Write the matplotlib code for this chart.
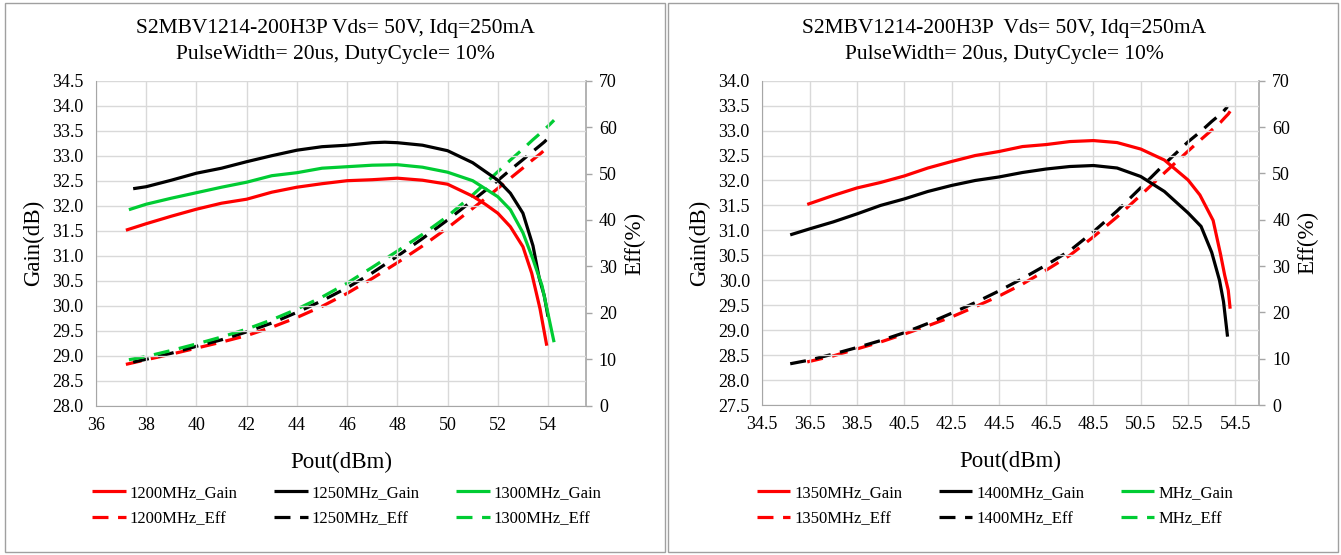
import matplotlib
matplotlib.use("Agg")
import matplotlib.pyplot as plt
from matplotlib.patches import Rectangle

plt.rcParams["font.family"] = ["Liberation Serif", "DejaVu Serif"]

# ---- left chart: 1200 / 1250 / 1300 MHz ----
pout_1200 = [37.19, 38.0, 39.0, 40.0, 41.0, 42.0, 43.0, 44.0, 45.0, 46.0, 47.0, 48.0,
             49.0, 50.0, 51.0, 51.5, 52.0, 52.5, 53.0, 53.35, 53.68, 53.95]
gain_1200 = [31.51, 31.64, 31.79, 31.93, 32.05, 32.13, 32.27, 32.37, 32.44, 32.5, 32.52, 32.55,
             32.51, 32.43, 32.19, 32.03, 31.85, 31.58, 31.18, 30.65, 29.94, 29.2]
eff_1200 = [8.9, 9.9, 11.1, 12.4, 13.7, 15.1, 16.9, 19.0, 21.4, 24.2, 27.4, 30.8,
            34.4, 38.3, 42.5, 44.6, 46.8, 49.0, 51.2, 52.8, 54.2, 55.5]

pout_1250 = [37.48, 38.0, 39.0, 40.0, 41.0, 42.0, 43.0, 44.0, 45.0, 46.0, 47.0, 47.5, 48.0,
             49.0, 50.0, 51.0, 52.0, 52.5, 53.0, 53.4, 53.65, 53.85, 54.0]
gain_1250 = [32.34, 32.38, 32.51, 32.65, 32.75, 32.88, 33.0, 33.11, 33.18, 33.21, 33.26, 33.27, 33.26,
             33.21, 33.1, 32.86, 32.51, 32.25, 31.85, 31.2, 30.55, 30.2, 29.78]
eff_1250 = [9.4, 10.0, 11.3, 12.8, 14.2, 15.9, 17.8, 20.1, 22.6, 25.4, 28.6, 30.4, 32.2,
            36.0, 40.0, 44.2, 48.5, 50.8, 53.0, 54.8, 55.9, 56.8, 57.6]

pout_1300 = [37.31, 38.0, 39.0, 40.0, 41.0, 42.0, 43.0, 44.0, 45.0, 46.0, 47.0, 48.0,
             49.0, 50.0, 51.0, 52.0, 52.5, 53.0, 53.4, 53.76, 54.02, 54.24]
gain_1300 = [31.92, 32.03, 32.15, 32.26, 32.37, 32.47, 32.6, 32.66, 32.75, 32.78, 32.81, 32.82,
             32.77, 32.67, 32.5, 32.18, 31.92, 31.46, 30.93, 30.4, 29.79, 29.27]
eff_1300 = [9.9, 10.6, 11.9, 13.3, 14.8, 16.5, 18.5, 20.8, 23.4, 26.4, 29.8, 33.3,
            36.9, 40.8, 45.4, 50.4, 52.9, 55.3, 57.3, 59.0, 60.3, 61.5]

# ---- right chart: 1350 / 1400 MHz (third series empty) ----
pout_1350 = [36.4, 37.5, 38.5, 39.5, 40.5, 41.5, 42.5, 43.5, 44.5, 45.5, 46.5, 47.5,
             48.5, 49.5, 50.5, 51.5, 52.5, 53.0, 53.56, 53.87, 54.05, 54.2, 54.28]
gain_1350 = [31.52, 31.7, 31.85, 31.96, 32.09, 32.25, 32.38, 32.5, 32.58, 32.68, 32.72, 32.78,
             32.8, 32.76, 32.63, 32.41, 32.01, 31.71, 31.2, 30.53, 30.1, 29.8, 29.43]
eff_1350 = [9.3, 10.6, 12.1, 13.6, 15.3, 17.1, 19.0, 21.2, 23.5, 26.1, 29.1, 32.3,
            36.3, 40.6, 45.3, 50.1, 54.8, 57.1, 59.6, 61.0, 62.0, 62.8, 63.4]

pout_1400 = [35.68, 36.5, 37.5, 38.5, 39.5, 40.5, 41.5, 42.5, 43.5, 44.5, 45.5, 46.5, 47.5,
             48.5, 49.5, 50.5, 51.5, 52.5, 53.05, 53.5, 53.83, 54.0, 54.17]
gain_1400 = [30.91, 31.03, 31.17, 31.33, 31.5, 31.63, 31.78, 31.9, 32.0, 32.07, 32.16, 32.23, 32.28,
             32.3, 32.25, 32.08, 31.78, 31.35, 31.08, 30.56, 30.0, 29.57, 28.87]
eff_1400 = [8.9, 9.7, 11.0, 12.4, 13.9, 15.6, 17.6, 19.8, 22.1, 24.6, 27.3, 30.2, 33.3,
            37.4, 41.9, 46.9, 52.0, 56.8, 59.1, 61.2, 62.6, 63.4, 64.4]

pout_none = []
gain_none = []
eff_none = []

title_left = "S2MBV1214-200H3P Vds= 50V, Idq=250mA\nPulseWidth= 20us, DutyCycle= 10%"
title_right = "S2MBV1214-200H3P  Vds= 50V, Idq=250mA\nPulseWidth= 20us, DutyCycle= 10%"

RED = "#ff0000"
BLACK = "#000000"
GREEN = "#00cc33"
GRID = "#d9d9d9"
SPINE = "#a6a6a6"


def draw_panel(fig, rect, xlim, xticks, ylim, yticks, series, title, title_x, legend_x):
    ax = fig.add_axes(rect)
    ax2 = ax.twinx()
    ax.set_zorder(ax2.get_zorder() + 1)
    ax.patch.set_visible(False)

    handles = []
    for pout, gain, eff, color, name in series:
        g, = ax.plot(pout, gain, color=color, lw=2.3, solid_capstyle="butt", label=name + "_Gain")
        e, = ax2.plot(pout, eff, color=color, lw=2.3, linestyle=(0, (5, 3)),
                      dash_capstyle="butt", label=name + "_Eff")
        handles += [g, e]

    ax.set_xlim(*xlim)
    ax.set_ylim(*ylim)
    ax2.set_ylim(0, 70)
    ax.set_xticks(xticks)
    ax.set_xticklabels([f"{t:g}" if xlim[0] == 36 else f"{t:.1f}" for t in xticks])
    ax.set_yticks(yticks)
    ax.set_yticklabels([f"{t:.1f}" for t in yticks])
    ax2.set_yticks(range(0, 71, 10))

    ax.grid(True, color=GRID, lw=1.0)
    ax.set_axisbelow(True)

    for a in (ax, ax2):
        for s in a.spines.values():
            s.set_visible(False)
    ax.spines["bottom"].set_visible(True)
    ax.spines["bottom"].set_color(SPINE)
    ax.spines["left"].set_visible(True)
    ax.spines["left"].set_color(SPINE)
    ax2.spines["right"].set_visible(True)
    ax2.spines["right"].set_color(SPINE)
    ax2.spines["right"].set_linewidth(1.2)

    ax.tick_params(axis="x", length=0, pad=8, labelsize=13)
    ax.tick_params(axis="y", length=0, pad=9, labelsize=13)
    ax2.tick_params(axis="y", length=4.5, width=1.0, color=SPINE, pad=5, labelsize=13)

    ax.set_xlabel("Pout(dBm)", fontsize=16.5, labelpad=13)
    ax.set_ylabel("Gain(dB)", fontsize=16.5, labelpad=6)
    ax2.set_ylabel("Eff(%)", fontsize=16.5, labelpad=5)

    fig.text(title_x, 1 - 42 / 555, title, ha="center", va="center", fontsize=15.5,
             linespacing=1.5)

    ax.legend(handles=handles, ncol=3, loc="center", bbox_to_anchor=(legend_x, 1 - 506 / 555),
              bbox_transform=fig.transFigure, frameon=False, fontsize=12,
              handlelength=2.0, handletextpad=0.25, columnspacing=2.2, labelspacing=0.6)
    return ax, ax2


fig = plt.figure(figsize=(13.41, 5.55), dpi=100)

# panel borders
fig.patches.append(Rectangle((5 / 1341, 3 / 555), 660 / 1341, 549 / 555, transform=fig.transFigure,
                             fill=False, edgecolor="#a0a0a0", lw=1.0))
fig.patches.append(Rectangle((668 / 1341, 3 / 555), 670 / 1341, 549 / 555, transform=fig.transFigure,
                             fill=False, edgecolor="#a0a0a0", lw=1.0))

left_series = [
    (pout_1200, gain_1200, eff_1200, RED, "1200MHz"),
    (pout_1250, gain_1250, eff_1250, BLACK, "1250MHz"),
    (pout_1300, gain_1300, eff_1300, GREEN, "1300MHz"),
]
right_series = [
    (pout_1350, gain_1350, eff_1350, RED, "1350MHz"),
    (pout_1400, gain_1400, eff_1400, BLACK, "1400MHz"),
    (pout_none, gain_none, eff_none, GREEN, "MHz"),
]

draw_panel(fig, [96 / 1341, 1 - 405.7 / 555, 489.7 / 1341, 325 / 555],
           (36, 55.5), list(range(36, 55, 2)), (28.0, 34.5),
           [28.0 + 0.5 * i for i in range(14)], left_series, title_left, 335 / 1341, 347 / 1341)

draw_panel(fig, [762.3 / 1341, 1 - 405.0 / 555, 496.7 / 1341, 324.3 / 555],
           (34.5, 55.5), [34.5 + 2 * i for i in range(11)], (27.5, 34.0),
           [27.5 + 0.5 * i for i in range(14)], right_series, title_right, 1004 / 1341, 995 / 1341)

fig.savefig("out.png", dpi=100)
